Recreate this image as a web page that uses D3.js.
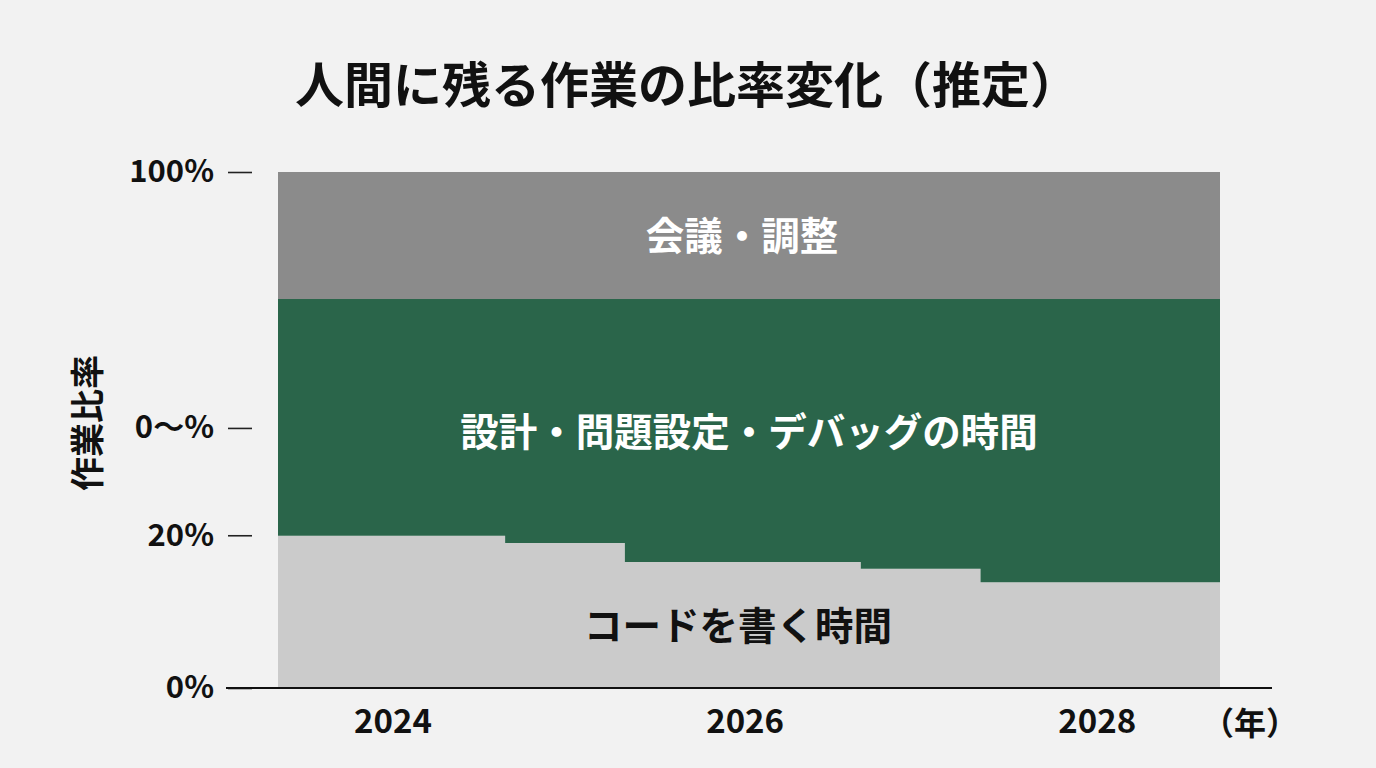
<!DOCTYPE html>
<html><head><meta charset="utf-8">
<script src="https://cdn.jsdelivr.net/npm/d3@7"></script>
<style>
html,body{margin:0;padding:0;background:#f2f2f2;}
svg{display:block;}
text{font-family:"Noto Sans CJK JP","Noto Sans",sans-serif;font-weight:700;}
</style></head>
<body>
<svg id="c" width="1376" height="768"></svg>
<script>
// Data
const periodStarts = [2023.35, 2024.64, 2025.32, 2026.66, 2027.34];
const periodEnd = 2028.70;
const codeShare = [29.5, 28.1, 24.4, 23.1, 20.5];
const designShare = [45.9, 47.3, 51.0, 52.3, 54.9];
const meetingShare = [24.6, 24.6, 24.6, 24.6, 24.6];
const seriesNames = ["コードを書く時間", "設計・問題設定・デバッグの時間", "会議・調整"];
const yTickValues = [0, 29.6, 50.4, 100];
const yTickLabels = ["0%", "20%", "0〜%", "100%"];
const xTickValues = [2024, 2026, 2028];

const svg = d3.select("#c");
const x = d3.scaleLinear().domain([periodStarts[0], periodEnd]).range([278, 1220]);
const y = d3.scaleLinear().domain([0, 100]).range([688, 172]);

const rows = periodStarts.map((s, i) => ({year: s, code: codeShare[i], design: designShare[i], meeting: meetingShare[i]}));
rows.push(Object.assign({}, rows[rows.length - 1], {year: periodEnd}));
const keys = ["code", "design", "meeting"];
const stacked = d3.stack().keys(keys)(rows);
const colors = {code: "#cbcbcb", design: "#2a654a", meeting: "#8b8b8b"};
const area = d3.area().curve(d3.curveStepAfter)
  .x(d => x(d.data.year)).y0(d => y(d[0])).y1(d => y(d[1]));

svg.append("g").selectAll("path").data(stacked).join("path")
  .attr("d", area).attr("fill", d => colors[d.key]);

// Title
svg.append("text").attr("x", 687).attr("y", 103).attr("text-anchor", "middle")
  .attr("font-size", 49).attr("font-weight", 900).attr("fill", "#111")
  .text("人間に残る作業の比率変化（推定）");

// Area labels
const labelPos = [
  {x: 738, v: 12, fill: "#111"},
  {x: 749, v: 49.5, fill: "#fff"},
  {x: 742, v: 87.5, fill: "#fff"}
];
labelPos.forEach((p, i) => {
  svg.append("text").attr("x", p.x).attr("y", y(p.v)).attr("dy", "0.35em")
    .attr("text-anchor", "middle").attr("font-size", 38.5).attr("fill", p.fill)
    .text(seriesNames[i]);
});

// Y axis
const yAxis = d3.axisLeft(y).tickValues(yTickValues)
  .tickFormat((d, i) => yTickLabels[i]).tickSize(24).tickPadding(14);
const gy = svg.append("g").attr("transform", "translate(252,0)").call(yAxis);
gy.select(".domain").remove();
gy.selectAll(".tick line").attr("stroke", "#222").attr("stroke-width", 1.6);
gy.selectAll(".tick text").attr("font-size", 31).attr("fill", "#111")
  .attr("font-family", '"Noto Sans CJK JP","Noto Sans",sans-serif').attr("font-weight", 700);

// X axis baseline
svg.append("line").attr("x1", 226).attr("x2", 1272).attr("y1", y(0)).attr("y2", y(0))
  .attr("stroke", "#111").attr("stroke-width", 2);
const xAxis = d3.axisBottom(x).tickValues(xTickValues).tickFormat(d3.format("d")).tickSize(0).tickPadding(22);
const gx = svg.append("g").attr("transform", `translate(0,${y(0)})`).call(xAxis);
gx.select(".domain").remove();
gx.selectAll(".tick text").attr("font-size", 33).attr("fill", "#111")
  .attr("font-family", '"Noto Sans CJK JP","Noto Sans",sans-serif').attr("font-weight", 700);

svg.append("text").attr("x", 1250).attr("y", 735).attr("text-anchor", "middle")
  .attr("font-size", 32).attr("fill", "#111").text("（年）");

// Y title
svg.append("text").attr("transform", "translate(100,423) rotate(-90)")
  .attr("text-anchor", "middle").attr("font-size", 34).attr("fill", "#111").text("作業比率");
</script>
</body></html>
